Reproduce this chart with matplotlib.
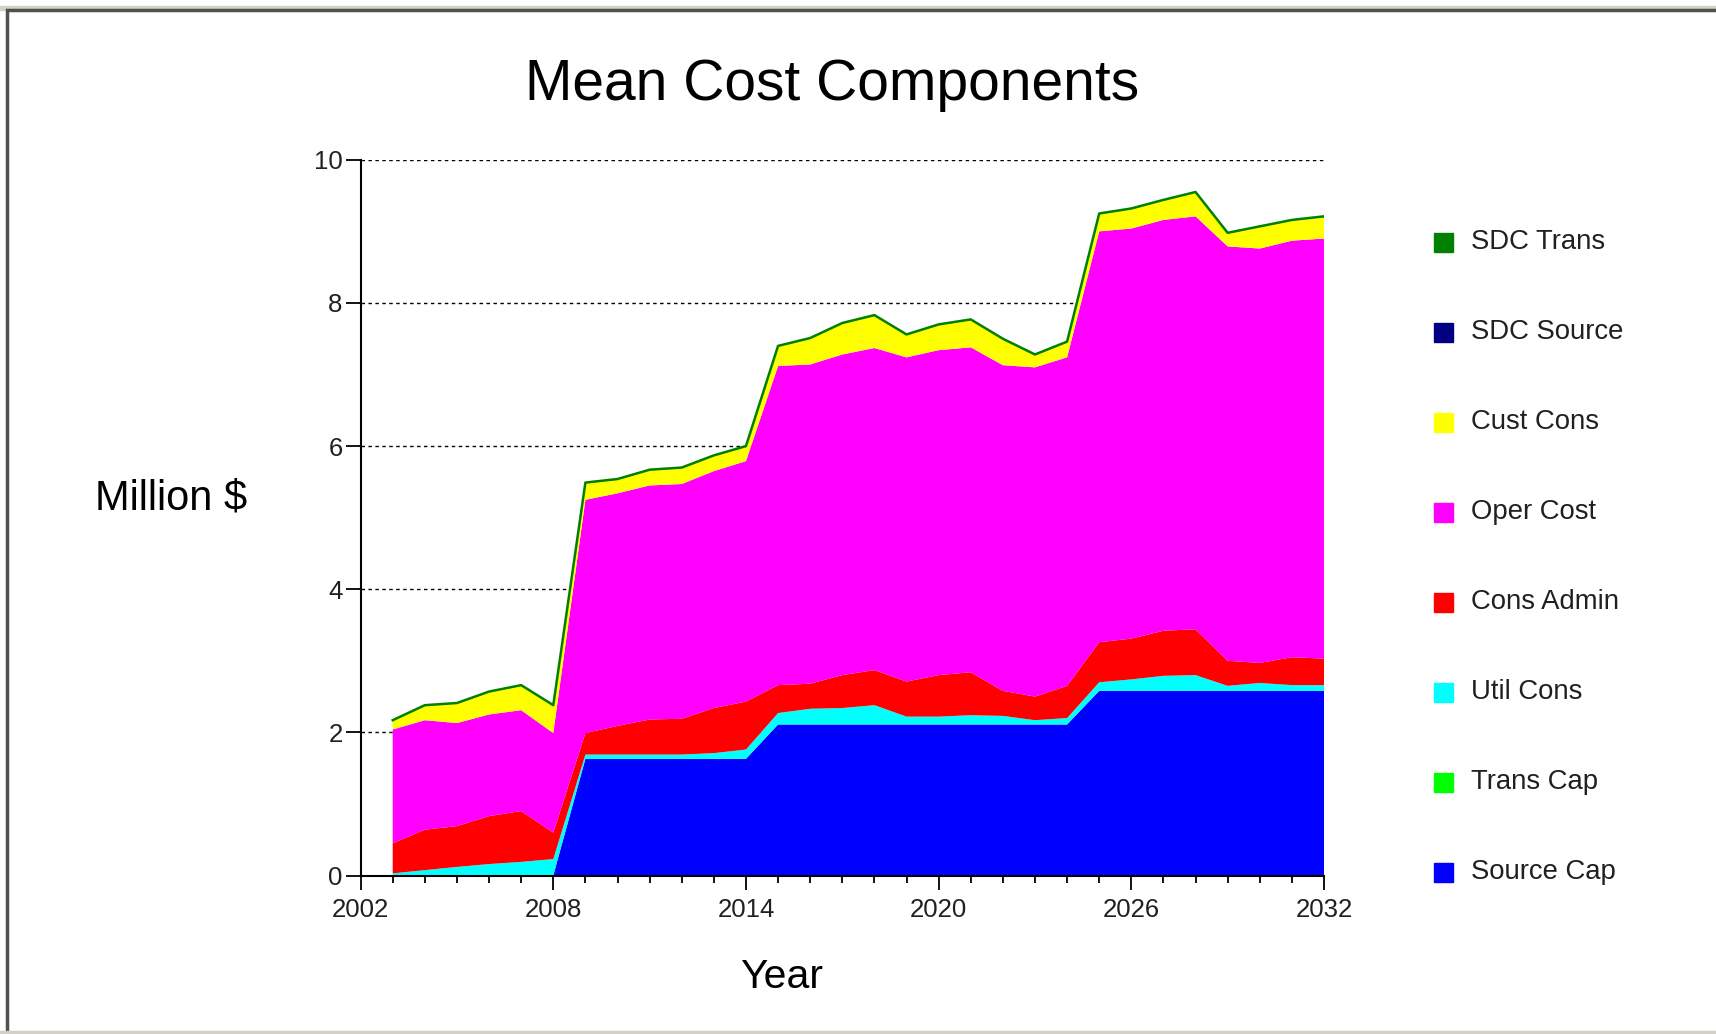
import numpy as np
import matplotlib.pyplot as plt
from matplotlib.patches import Rectangle

plt.rcParams['font.family'] = ['Liberation Sans', 'DejaVu Sans']

# data (million $ per year, stacked)
years = list(range(2003, 2033))

source_cap = [0.0, 0.0, 0.0, 0.0, 0.0, 0.0,
              1.63, 1.63, 1.63, 1.63, 1.63, 1.63,
              2.11, 2.11, 2.11, 2.11, 2.11, 2.11, 2.11, 2.11, 2.11, 2.11,
              2.58, 2.58, 2.58, 2.58, 2.58, 2.58, 2.58, 2.58]
trans_cap = [0.0, 0.0, 0.0, 0.0, 0.0, 0.0,
             0.0, 0.0, 0.0, 0.0, 0.0, 0.0,
             0.0, 0.0, 0.0, 0.0, 0.0, 0.0, 0.0, 0.0, 0.0, 0.0,
             0.0, 0.0, 0.0, 0.0, 0.0, 0.0, 0.0, 0.0]
util_cons = [0.03, 0.075, 0.12, 0.16, 0.19, 0.23,
             0.06, 0.06, 0.06, 0.06, 0.08, 0.13,
             0.16, 0.22, 0.23, 0.27, 0.11, 0.11, 0.13, 0.12, 0.06, 0.09,
             0.12, 0.16, 0.21, 0.22, 0.07, 0.11, 0.08, 0.08]
cons_admin = [0.42, 0.565, 0.57, 0.67, 0.71, 0.37,
              0.30, 0.40, 0.49, 0.50, 0.63, 0.67,
              0.39, 0.35, 0.46, 0.49, 0.49, 0.58, 0.60, 0.35, 0.33, 0.45,
              0.56, 0.57, 0.63, 0.64, 0.35, 0.28, 0.39, 0.37]
oper_cost = [1.59, 1.53, 1.44, 1.42, 1.41, 1.39,
             3.26, 3.25, 3.27, 3.28, 3.31, 3.36,
             4.46, 4.46, 4.48, 4.50, 4.53, 4.54, 4.54, 4.55, 4.60, 4.59,
             5.74, 5.73, 5.74, 5.77, 5.79, 5.79, 5.82, 5.87]
cust_cons = [0.12, 0.20, 0.27, 0.31, 0.34, 0.38,
             0.23, 0.19, 0.21, 0.22, 0.21, 0.20,
             0.27, 0.36, 0.43, 0.45, 0.31, 0.35, 0.38, 0.36, 0.17, 0.21,
             0.24, 0.27, 0.27, 0.33, 0.18, 0.30, 0.28, 0.30]
sdc_source = [0.0, 0.0, 0.0, 0.0, 0.0, 0.0,
              0.0, 0.0, 0.0, 0.0, 0.0, 0.0,
              0.0, 0.0, 0.0, 0.0, 0.0, 0.0, 0.0, 0.0, 0.0, 0.0,
              0.0, 0.0, 0.0, 0.0, 0.0, 0.0, 0.0, 0.0]
sdc_trans = [0.01, 0.01, 0.01, 0.01, 0.01, 0.01,
             0.01, 0.01, 0.01, 0.01, 0.01, 0.01,
             0.01, 0.01, 0.01, 0.01, 0.01, 0.01, 0.01, 0.01, 0.01, 0.01,
             0.01, 0.01, 0.01, 0.01, 0.01, 0.01, 0.01, 0.01]

# bottom to top
series = [source_cap, trans_cap, util_cons, cons_admin, oper_cost, cust_cons, sdc_source, sdc_trans]
colors = ['#0000ff', '#00ff00', '#00ffff', '#ff0000', '#ff00ff', '#ffff00', '#000080', '#008000']
labels = ['Source Cap', 'Trans Cap', 'Util Cons', 'Cons Admin', 'Oper Cost', 'Cust Cons',
          'SDC Source', 'SDC Trans']

W, H = 1716, 1034
fig = plt.figure(figsize=(W / 100, H / 100), dpi=100)

# window-like frame
fig.patches.append(Rectangle((0, (H - 10) / H), 1, 4 / H, transform=fig.transFigure,
                             color='#d4d0c8', zorder=0))
fig.patches.append(Rectangle((7 / W, 0), 1, (H - 10) / H, transform=fig.transFigure,
                             facecolor='none', edgecolor='#505050', lw=2.5, zorder=0))
fig.patches.append(Rectangle((0, 0), 1, 3 / H, transform=fig.transFigure,
                             color='#d4d0c8', zorder=0))

ax = fig.add_axes([360.6 / W, 1 - 875.5 / H, 963.4 / W, 715.7 / H])
ax.stackplot(years, *series, colors=colors, lw=0)
total = np.sum(np.array(series), axis=0)
ax.plot(years, total, color='#008000', lw=1.8)

ax.set_xlim(2002, 2032)
ax.set_ylim(0, 10)
ax.set_xticks(range(2002, 2033, 6))
ax.set_xticks(range(2002, 2033), minor=True)
ax.set_yticks(range(0, 11, 2))
ax.tick_params(axis='x', which='major', length=10, width=1.3, pad=6,
               labelsize=18.5, labelcolor='#202020')
ax.tick_params(axis='x', which='minor', length=5, width=1.3)
ax.tick_params(axis='y', length=11, width=1.3, pad=2, labelsize=18.5, labelcolor='#202020')

for s in ['top', 'right']:
    ax.spines[s].set_visible(False)
for s in ['left', 'bottom']:
    ax.spines[s].set_linewidth(1.5)
ax.set_axisbelow(True)
ax.grid(axis='y', color='black', ls=(0, (2.5, 2.5)), lw=1)

fig.text(832 / W, 1 - 85 / H, 'Mean Cost Components', fontsize=41, ha='center', va='center')
fig.text(171.5 / W, 1 - 498 / H, 'Million $', fontsize=30, ha='center', va='center')
fig.text(782 / W, 1 - 977 / H, 'Year', fontsize=29.5, ha='center', va='center')

# legend drawn as squares + labels, top to bottom
for i, (lab, col) in enumerate(zip(labels[::-1], colors[::-1])):
    yc = 242 + 90 * i
    fig.patches.append(Rectangle((1434 / W, 1 - (yc + 10) / H), 19 / W, 19 / H,
                                 transform=fig.transFigure, color=col))
    fig.text(1471 / W, 1 - yc / H, lab, fontsize=19.8, color='#202020', ha='left', va='center')

fig.savefig('out.png', dpi=100)
